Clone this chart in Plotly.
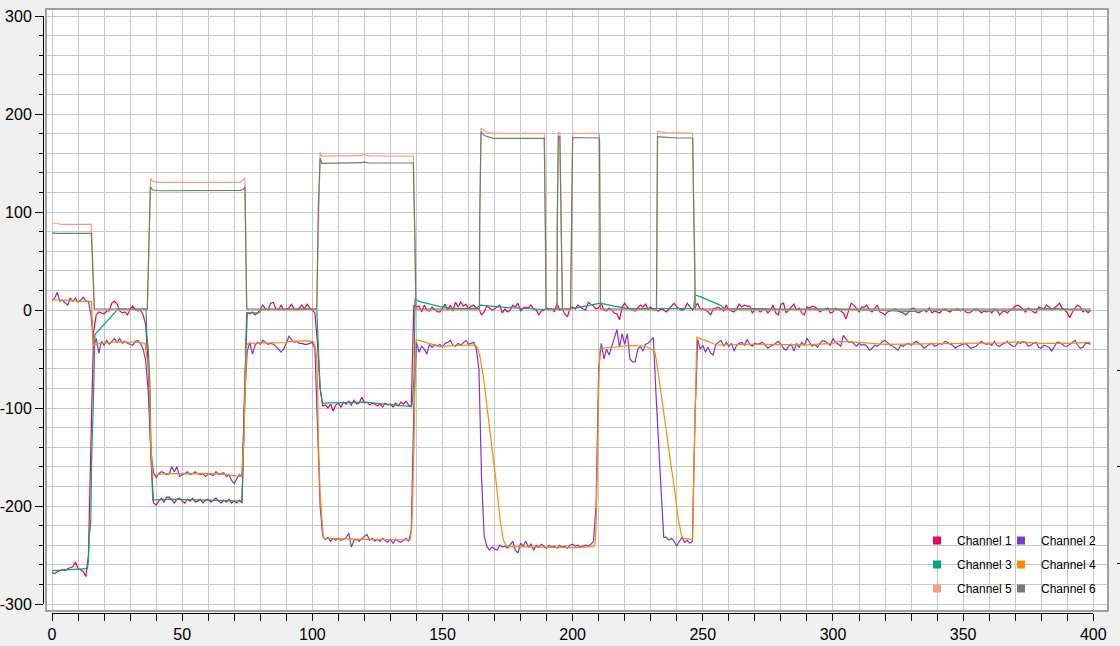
import plotly.graph_objects as go

# ---------------- data ----------------
CHANNEL_NAMES = ["Channel 1", "Channel 2", "Channel 3", "Channel 4", "Channel 5", "Channel 6"]

# noisy channels, one value per sample x = 0, 1, 2, ...
CH1_Y = [
    -268, -269, -267, -266, -265, -266, -264, -263, -262, -257,
    -264, -265, -267, -272, -250, -130, -22, -5, -2, -3,
    -4, -1, -1, 7, 9, 6, -1, -3, -2, -5,
    1, 4, 0, -1, 0, -5, -15, -60, -150, -197,
    -199, -195, -192, -196, -191, -191, -194, -197, -193, -192,
    -195, -197, -193, -195, -192, -196, -195, -193, -197, -194,
    -193, -196, -194, -192, -195, -197, -194, -196, -193, -197,
    -195, -197, -194, -197, -80, -3, -4, -2, -5, -3,
    1, 5, 1, 0, 7, 8, 1, 0, 5, 0,
    1, 2, 6, 1, 0, 2, 5, 1, 6, 2,
    0, -3, -35, -80, -98, -97, -100, -96, -103, -97,
    -95, -99, -94, -96, -93, -97, -92, -96, -95, -89,
    -95, -94, -97, -95, -96, -98, -96, -99, -95, -97,
    -96, -99, -95, -98, -94, -96, -93, -97, -99, 5,
    3, 4, -2, 5, 0, -1, 3, 0, -2, -2,
    2, 6, 0, 5, -1, 8, 3, 8, 4, 6,
    1, 4, 5, 2, 1, -5, -2, 4, 2, 0,
    1, 3, 5, -3, 1, -2, 0, 5, 3, 7,
    -1, 2, 3, 2, 5, 1, 0, -5, -1, 0,
    2, 1, 1, -2, 7, 0, 1, -4, -7, 2,
    3, 1, 5, 3, 1, 0, 8, 6, 4, 1,
    2, 7, 0, -1, 2, 0, -3, -4, -10, 3,
    7, 3, 1, 0, -1, 2, 5, 3, 6, 1,
    3, 0, 0, -1, 1, 0, -2, 1, 4, 7,
    3, 1, 0, 1, 7, 3, 0, 3, 7, 1,
    1, 0, -2, -5, 1, 2, 3, 1, -1, 5,
    0, -1, -2, 1, 6, 3, 5, 4, 4, -3,
    0, 1, -2, 0, 1, -3, 0, 5, -3, -5,
    6, 7, -3, 0, 3, 6, 0, 2, -3, -5,
    3, 2, 4, 3, 1, -2, 0, 1, 2, -3,
    -2, 2, 0, -1, -3, -9, -1, 7, 5, 2,
    -2, 3, 3, 5, 0, -2, 2, 5, -2, -3,
    -5, -2, -1, 0, 1, -1, -2, -3, -5, -2,
    1, 2, -2, -3, -1, 0, -2, 2, -3, -1,
    -2, -3, 0, 1, -1, -2, 0, 0, 1, -1,
    1, -2, -3, -2, 0, 1, 0, -3, -1, -2,
    0, -3, 1, 0, -5, -2, -1, -3, 0, 1,
    4, 5, 3, 0, -2, 2, 0, -2, -3, 3,
    2, 1, 5, 3, 0, 2, 4, 7, 2, 0,
    -3, -8, -2, 2, 5, 3, -2, 0, -3, 0,
]

CH2_Y = [
    10, 12, 18, 9, 10, 7, 5, 12, 9, 12,
    8, 10, 13, 9, 9, -5, -37, -29, -44, -32,
    -36, -31, -35, -32, -29, -33, -29, -34, -32, -34,
    -35, -36, -32, -31, -34, -40, -52, -85, -145, -166,
    -171, -167, -165, -166, -168, -167, -160, -165, -160, -170,
    -168, -167, -165, -168, -167, -165, -167, -168, -167, -170,
    -167, -168, -169, -165, -168, -167, -166, -170, -168, -174,
    -177, -172, -168, -170, -90, -42, -33, -45, -36, -33,
    -35, -31, -33, -35, -34, -35, -37, -40, -43, -40,
    -33, -27, -30, -33, -32, -34, -34, -35, -35, -34,
    -33, -40, -110, -200, -231, -234, -232, -236, -233, -235,
    -233, -235, -234, -232, -228, -242, -235, -234, -236, -233,
    -231, -229, -235, -233, -236, -234, -236, -233, -235, -237,
    -234, -238, -234, -236, -237, -235, -233, -236, -225, -100,
    -33, -43, -37, -40, -45, -35, -38, -35, -37, -35,
    -38, -34, -33, -31, -36, -37, -34, -36, -33, -31,
    -35, -34, -33, -40, -61, -170, -230, -241, -245, -242,
    -244, -245, -240, -242, -241, -243, -240, -236, -245, -248,
    -238, -241, -236, -242, -239, -245, -240, -242, -239, -241,
    -243, -240, -242, -241, -243, -240, -242, -241, -243, -240,
    -239, -241, -240, -242, -241, -240, -241, -239, -236, -200,
    -60, -34, -50, -40, -46, -38, -30, -20, -38, -24,
    -35, -24, -50, -53, -53, -40, -37, -42, -35, -34,
    -31, -28, -85, -140, -185, -232, -232, -235, -233, -236,
    -241, -236, -232, -237, -235, -238, -236, -110, -30, -40,
    -36, -43, -38, -44, -46, -35, -33, -31, -37, -33,
    -37, -34, -42, -36, -34, -33, -36, -30, -35, -37,
    -34, -35, -34, -33, -36, -39, -37, -36, -34, -32,
    -35, -39, -41, -37, -35, -42, -34, -38, -33, -36,
    -29, -33, -37, -35, -38, -34, -31, -32, -34, -36,
    -29, -33, -35, -37, -26, -29, -33, -32, -35, -37,
    -34, -36, -35, -37, -41, -39, -36, -37, -35, -32,
    -31, -34, -36, -37, -39, -41, -36, -37, -35, -34,
    -36, -34, -32, -34, -36, -39, -37, -35, -34, -37,
    -36, -34, -35, -32, -33, -35, -36, -39, -37, -36,
    -35, -34, -37, -39, -38, -37, -34, -32, -34, -35,
    -34, -36, -32, -36, -37, -35, -34, -32, -35, -37,
    -37, -33, -34, -32, -33, -37, -36, -34, -33, -38,
    -39, -36, -37, -38, -42, -37, -33, -33, -35, -37,
    -37, -35, -33, -31, -36, -39, -38, -34, -34, -35,
]

# step-like channels, as (x, value) vertices
CH3_PTS = [
    (0, -266), (5, -265), (10, -264.5), (13.6, -264), (13.95, -258), (14.3, -231),
    (14.9, -216), (15.2, -156), (15.9, -92), (16.3, -27), (16.5, -25), (25.3, 1),
    (36.1, 1), (36.4, -24), (37.0, -41), (37.4, -61), (37.7, -82), (38.0, -139),
    (38.7, -194), (45, -193), (60, -194), (72.9, -195), (73.25, -173), (73.5, -146),
    (73.9, -129), (74.15, -82), (74.4, -37), (74.8, -3), (79.5, -3), (80.5, 0.5),
    (101.7, 1), (102.3, -30), (102.7, -58), (103.0, -80), (103.85, -95), (120, -94),
    (138.2, -98.5), (138.6, -88), (139.1, -65), (139.45, 11), (141.4, 8.5), (143.9, 6.8),
    (147.1, 5), (149, 3.4), (154, 1.7), (163, 1.7), (164.5, 5), (175, 2.5), (189, 0.5),
    (200, 1.5), (205, 4), (210.3, 7), (210.6, 7), (216, 4), (221, 1.7), (240, 1.5),
    (246.5, 1.5), (247, 15.3), (249, 13.6), (256.6, 5), (258.5, 1), (270, 1.5),
    (280, 0.5), (300, 1), (320, -1), (330, -1.5), (340, 0), (360, -1), (375, 0.5),
    (385, 1.5), (399, -1),
]

CH4_PTS = [
    (0, 10.2), (5, 10), (10, 9), (14.6, 8.5), (15.2, 8.5), (15.6, -22), (15.9, -37),
    (16.5, -34), (17.1, -35.5), (18.4, -34), (25, -32.5), (33, -33), (35.7, -34),
    (36.4, -47.6), (37.0, -57.8), (37.4, -78), (37.7, -104), (38.0, -139.5),
    (38.7, -168.4), (45, -166.7), (51.5, -167.3), (57.9, -166.7), (64.3, -167.3),
    (68.2, -168.4), (70, -169.4), (72.9, -170), (73.25, -153), (73.8, -129),
    (74.15, -85), (74.4, -58), (74.8, -35.7), (75.4, -34), (78.7, -34), (90, -33.3),
    (91, -32.3), (97.6, -31.3), (100.4, -32.3), (101.0, -37.4), (101.7, -47.7),
    (102.1, -85), (102.3, -132.6), (102.7, -166.7), (103.0, -187), (103.6, -211),
    (104.0, -231), (104.3, -233), (120, -234), (137.5, -234.7), (137.8, -231),
    (138.2, -221), (138.6, -183.7), (139.1, -132.7), (139.45, -64.6), (139.8, -30.6),
    (141, -31), (145, -34), (149, -37.4), (155, -36), (162.5, -35.7), (163.4, -38),
    (164.4, -47.7), (165.7, -68), (167, -95), (168.3, -122.5), (169.5, -149.7),
    (170.8, -180), (172.1, -214), (173.4, -234.7), (174.7, -241.5), (190, -242),
    (200, -242.5), (208, -241.5), (208.6, -238), (209, -221), (209.2, -187),
    (209.5, -150), (209.9, -102), (210.1, -68), (210.5, -39), (216, -38), (222, -36),
    (228, -37), (231, -41), (231.7, -44), (232.9, -64.6), (234.2, -88.5), (235.5, -112),
    (236.8, -136), (238.1, -163), (239.3, -187), (240.6, -214), (241.9, -231),
    (242.5, -233), (246.1, -234), (246.4, -184), (247, -92), (247.4, -30.6),
    (247.7, -28), (251, -31), (255.3, -35.7), (270, -35), (290, -35.5), (300, -34),
    (302.5, -32), (310, -33), (320, -35), (335, -34.5), (350, -34), (365, -33.5),
    (371, -32.5), (380, -34), (390, -34), (399, -33),
]

CH5_PTS = [
    (0, 88.5), (2.5, 88.5), (3, 87.4), (15.1, 87.4), (15.5, 57.8), (15.9, 27), (16.26, 0),
    (36.6, 0), (37.0, 44), (37.4, 85), (37.9, 134.4), (38.5, 131.5), (40.8, 130.3),
    (72.2, 130.3), (73.5, 133.3), (74.1, 134.4), (74.5, 63), (74.8, 0), (101.7, 0),
    (102.1, 52.8), (102.3, 105.4), (103.0, 160.9), (103.6, 157.1), (119, 157.5),
    (119.6, 158.5), (122, 157.2), (138.8, 157), (139.4, 76), (139.8, 0), (164.2, 0),
    (164.3, 92), (164.8, 185.4), (167, 181.5), (169.5, 180.3), (189.1, 180.3),
    (189.5, 88.4), (189.8, 0), (194.0, 0), (194.1, 88), (194.5, 181), (195.1, 181),
    (195.4, 119), (195.8, 59), (196.1, 0), (199.2, 0), (199.4, 59), (199.7, 119),
    (200.0, 180.3), (210.3, 180.3), (210.5, 90), (210.7, 0), (232.2, 0), (232.3, 91),
    (232.6, 182.3), (236, 181), (240, 180.5), (246.1, 180.5), (246.4, 119),
    (246.9, 59.5), (247.1, 0), (399, 0),
]

CH6_PTS = [
    (0, 78.8), (2, 78.2), (15.1, 78.2), (15.5, 57.8), (15.9, 27), (16.26, 1),
    (36.6, 1), (37.0, 42.5), (37.4, 85), (37.8, 125.8), (38.6, 122.4), (41.2, 121.7),
    (72.2, 122), (73.5, 123), (74.1, 125.8), (74.5, 60), (74.8, 1), (101.7, 1),
    (102.1, 52.8), (102.3, 105), (103.0, 154.8), (103.6, 149.7), (119, 150.3),
    (119.6, 150.8), (122, 150), (138.8, 150), (139.4, 76), (139.8, 1), (164.2, 1),
    (164.3, 91), (164.8, 182), (166, 178), (169.5, 175.2), (189.1, 175.2),
    (189.5, 88.4), (189.8, 1), (194.0, 1), (194.1, 88), (194.5, 177), (195.1, 177),
    (195.4, 119), (195.8, 59), (196.1, 1), (199.2, 1), (199.4, 59), (199.7, 119),
    (200.0, 176), (210.3, 175.5), (210.5, 90), (210.7, 1), (232.2, 1), (232.3, 91),
    (232.6, 177), (235, 176.5), (240, 175.5), (246.1, 175.5), (246.4, 119),
    (246.9, 59.5), (247.1, 1), (399, 1),
]

X_TICKS = [0, 50, 100, 150, 200, 250, 300, 350, 400]
Y_TICKS = [-300, -200, -100, 0, 100, 200, 300]
RIGHT_AXIS_TICKS = [-62, -160, -259]

COLORS = ["#f0005a", "#8033d6", "#00a67e", "#ff8a00", "#ff9a82", "#6b8068"]

# ---------------- geometry ----------------
W, H = 1120, 646
ML, MR, MT, MB = 43, 0, 10, 33
PW = W - ML - MR
PH = H - MT - MB
X0_PX, X400_PX = 52.0, 1093.3
Y0_PX, Y_SCALE = 310.0, 0.98
SX = (X400_PX - X0_PX) / 400.0
FR_L, FR_R, FR_T, FR_B = 47, 1107, 10, 610


def pxx(p):
    return (p - ML) / PW


def pxy(p):
    return (H - MB - p) / PH


def data_x(p):
    return (p - X0_PX) / SX


def data_y(p):
    return (Y0_PX - p) / Y_SCALE


FONT = "Liberation Sans"

# ---------------- traces ----------------
series = [
    (list(range(len(CH1_Y))), CH1_Y),
    (list(range(len(CH2_Y))), CH2_Y),
    ([p[0] for p in CH3_PTS], [p[1] for p in CH3_PTS]),
    ([p[0] for p in CH4_PTS], [p[1] for p in CH4_PTS]),
    ([p[0] for p in CH5_PTS], [p[1] for p in CH5_PTS]),
    ([p[0] for p in CH6_PTS], [p[1] for p in CH6_PTS]),
]

fig = go.Figure()
for (xs, ys), name, color in zip(series, CHANNEL_NAMES, COLORS):
    fig.add_trace(go.Scatter(
        x=xs, y=ys, mode="lines", name=name, showlegend=False,
        line=dict(color=color, width=1.2), xaxis="x", yaxis="y",
    ))

# legend entries (square swatches), two columns
for i, (name, color) in enumerate(zip(CHANNEL_NAMES, COLORS)):
    fig.add_trace(go.Scatter(
        x=[None], y=[None], mode="markers", name=name,
        marker=dict(symbol="square", size=8, color=color),
        legend="legend" if i % 2 == 0 else "legend2",
        legendgroup="g%d" % i,
    ))

# carriers for the offset axes
fig.add_trace(go.Scatter(x=[], y=[], xaxis="x2", yaxis="y2", showlegend=False, hoverinfo="skip"))
fig.add_trace(go.Scatter(x=[], y=[], xaxis="x", yaxis="y3", showlegend=False, hoverinfo="skip"))

grid = "#c8c8c8"
tickfont = dict(family=FONT, size=16, color="black")
legfont = dict(family=FONT, size=12, color="black")

fig.update_layout(
    width=W, height=H, autosize=False,
    margin=dict(l=ML, r=MR, t=MT, b=MB, pad=0, autoexpand=False),
    paper_bgcolor="#f0f0f0",
    plot_bgcolor="rgba(0,0,0,0)",
    font=dict(family=FONT, color="black"),
    shapes=[dict(type="rect", xref="x domain", yref="y domain", x0=0, x1=1, y0=0, y1=1,
                 fillcolor="white", line=dict(width=0), layer="below")],
    xaxis=dict(
        domain=[pxx(FR_L), pxx(FR_R)], range=[data_x(FR_L), data_x(FR_R)],
        showgrid=True, gridcolor=grid, gridwidth=1, tick0=0, dtick=10,
        showticklabels=False, ticks="", zeroline=False, automargin=False,
        showline=True, mirror=True, linecolor="#a0a0a0", linewidth=2,
    ),
    yaxis=dict(
        domain=[pxy(FR_B), pxy(FR_T)], range=[data_y(FR_B), data_y(FR_T)],
        showgrid=True, gridcolor=grid, gridwidth=1, tick0=0, dtick=20,
        showticklabels=False, ticks="", zeroline=False, automargin=False,
        showline=True, mirror=True, linecolor="#a0a0a0", linewidth=2,
    ),
    xaxis2=dict(
        domain=[pxx(X0_PX), pxx(X400_PX)], range=[0, 400],
        anchor="free", position=0, showgrid=False, zeroline=False, automargin=False,
        showline=True, linecolor="black", linewidth=1,
        tickvals=X_TICKS, ticktext=[str(v) for v in X_TICKS],
        ticks="outside", ticklen=7, tickcolor="black", tickwidth=1,
        minor=dict(dtick=10, tick0=0, ticks="outside", ticklen=7, tickcolor="black", showgrid=False),
        tickfont=tickfont,
    ),
    yaxis2=dict(
        domain=[pxy(Y0_PX + 300 * Y_SCALE), pxy(Y0_PX - 300 * Y_SCALE)], range=[-300, 300],
        anchor="free", position=0, showgrid=False, zeroline=False, automargin=False,
        showline=True, linecolor="black", linewidth=1,
        tickvals=Y_TICKS, ticktext=[str(v) for v in Y_TICKS],
        ticks="outside", ticklen=8, tickcolor="black", tickwidth=1,
        minor=dict(dtick=20, tick0=0, ticks="outside", ticklen=4, tickcolor="black", showgrid=False),
        tickfont=tickfont,
    ),
    yaxis3=dict(
        overlaying="y", anchor="free", side="right", position=pxx(1116), automargin=False,
        range=[data_y(FR_B), data_y(FR_T)], tickvals=RIGHT_AXIS_TICKS,
        ticks="outside", ticklen=6, tickcolor="black", showticklabels=False,
        showgrid=False, zeroline=False, showline=False,
    ),
    legend=dict(
        x=pxx(917), y=pxy(526), xanchor="left", yanchor="top",
        bgcolor="rgba(0,0,0,0)", font=legfont, itemwidth=30, tracegroupgap=5,
    ),
    legend2=dict(
        x=pxx(1001), y=pxy(526), xanchor="left", yanchor="top",
        bgcolor="rgba(0,0,0,0)", font=legfont, itemwidth=30, tracegroupgap=5,
    ),
)

fig.write_html(
    "out.html",
    config={"displayModeBar": False},
    post_script="document.body.style.margin='0px';document.body.style.overflow='hidden';",
)
